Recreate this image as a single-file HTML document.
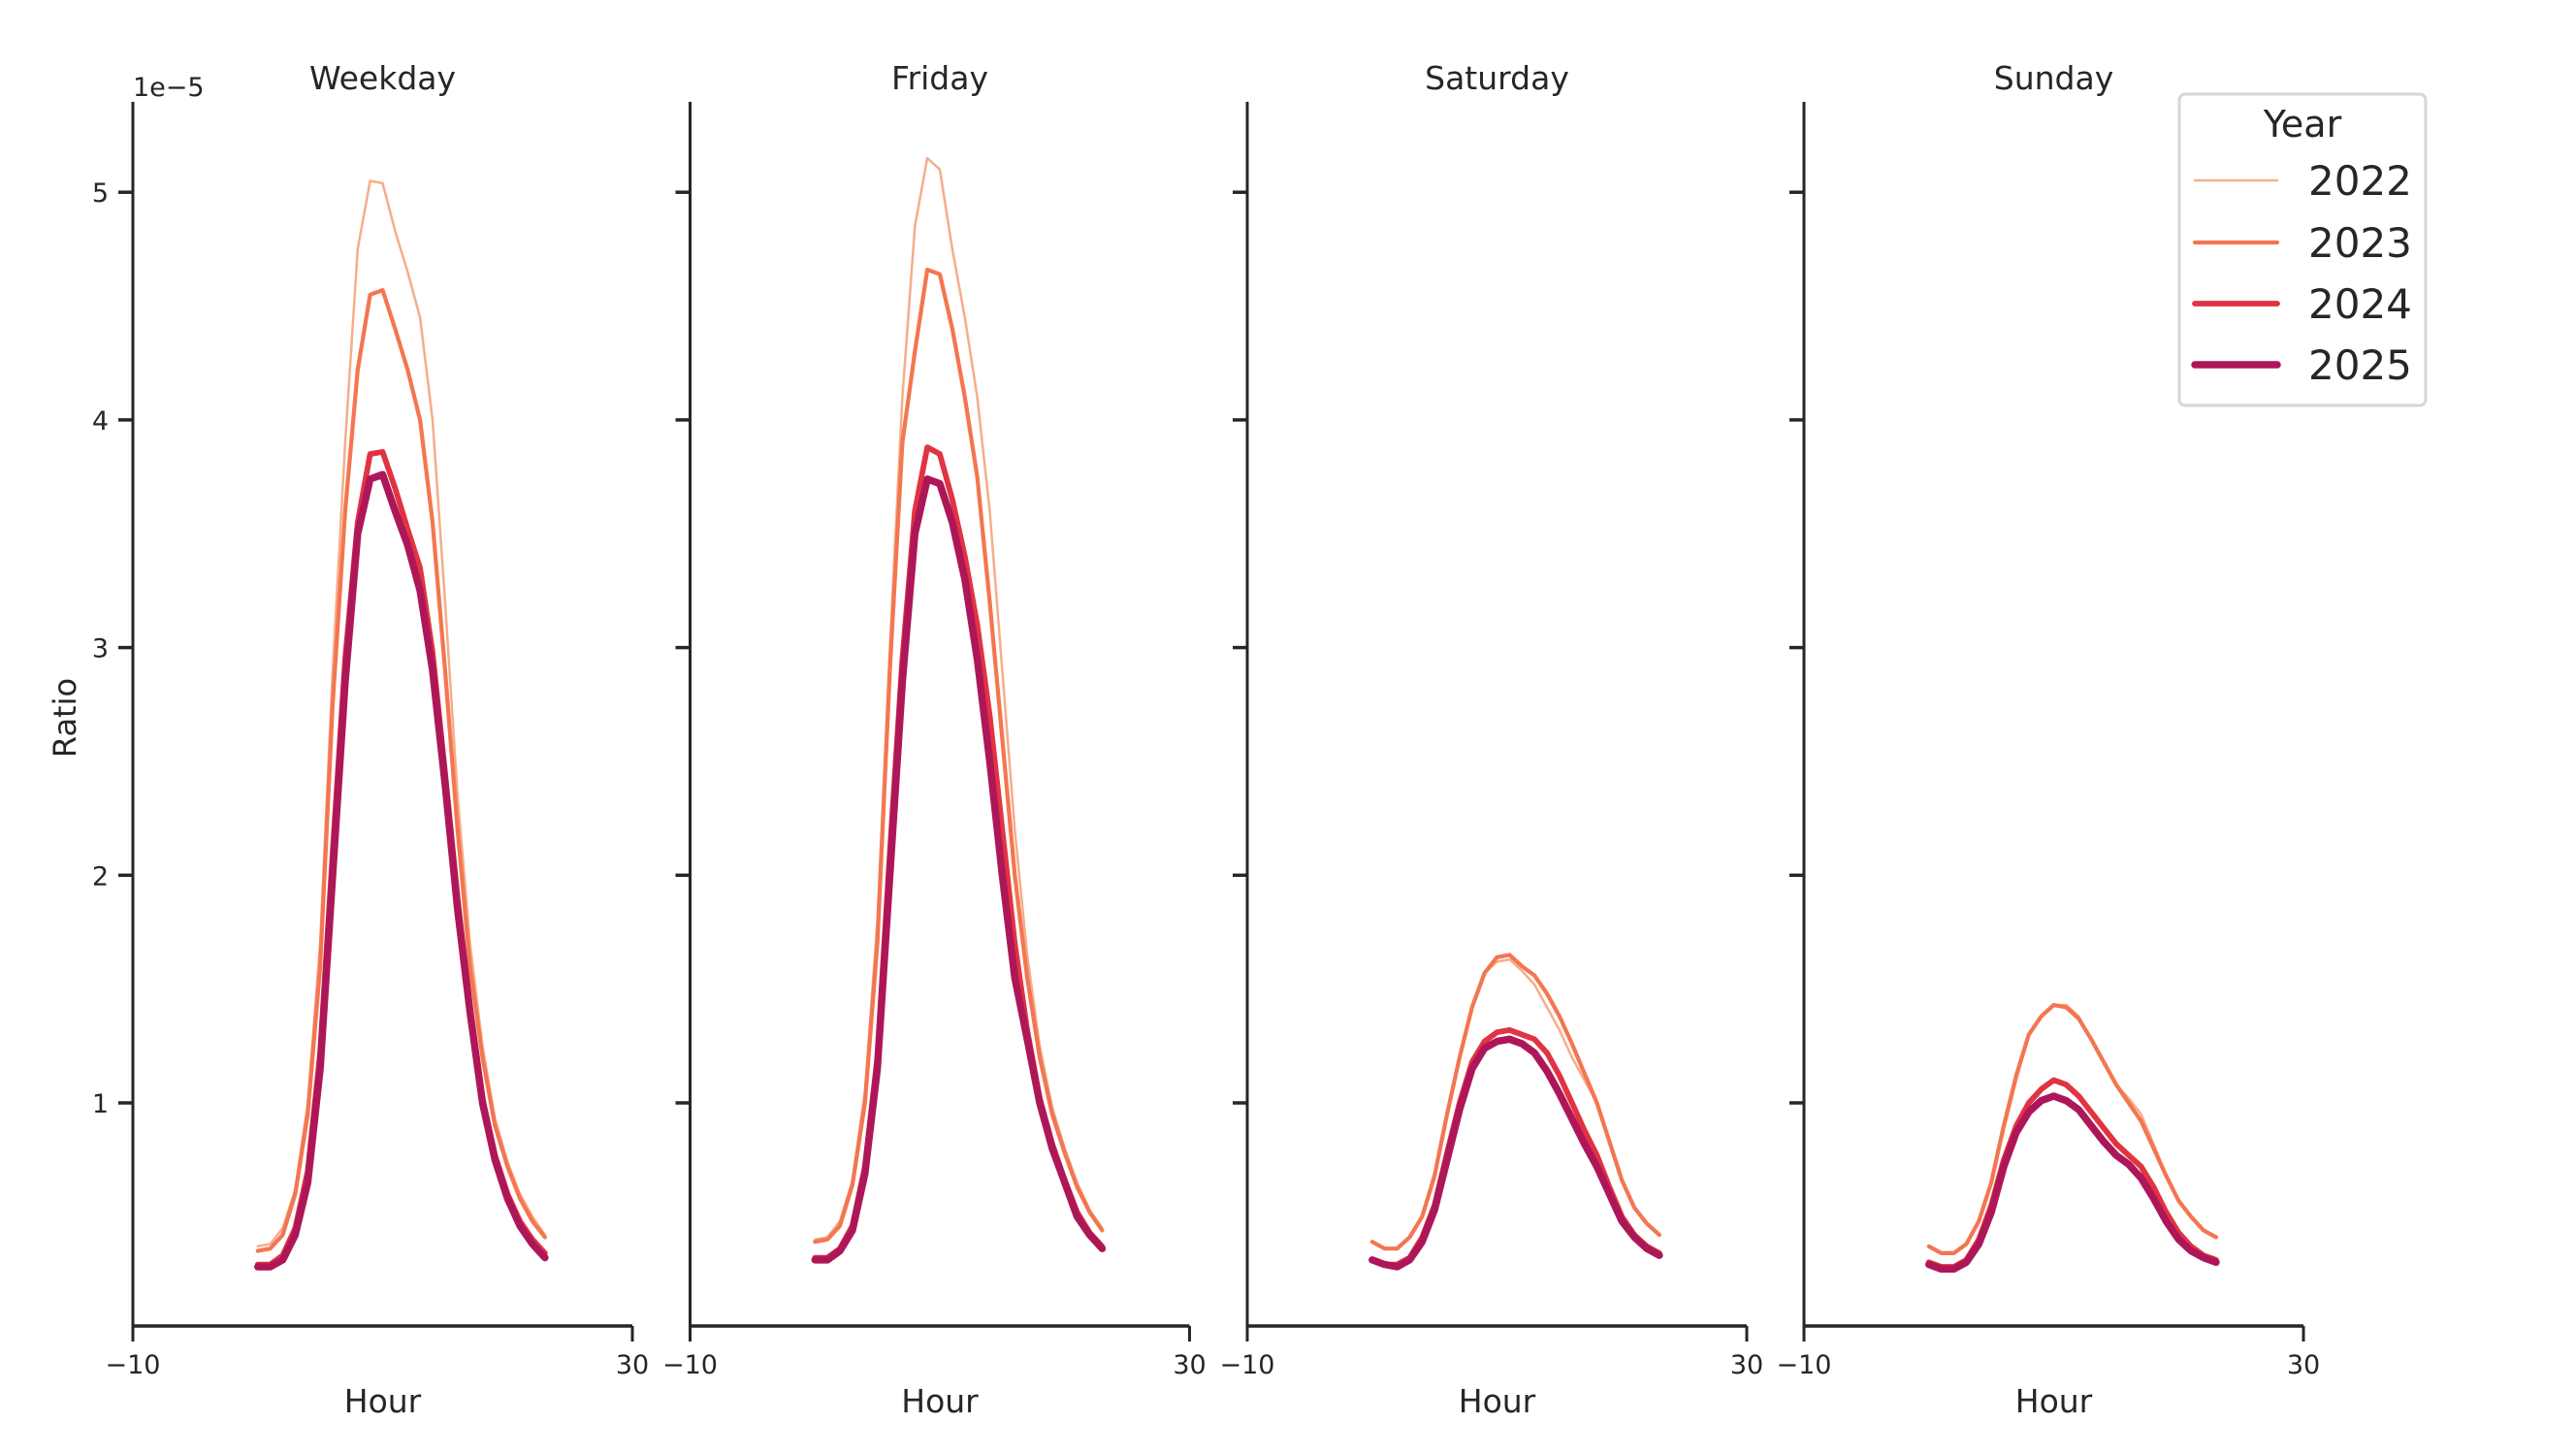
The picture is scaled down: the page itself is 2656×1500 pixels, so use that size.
<!DOCTYPE html>
<html><head><meta charset="utf-8"><style>
html,body{margin:0;padding:0;background:#fff;}
svg{display:block;font-family:"DejaVu Sans","Liberation Sans",sans-serif;}
</style></head><body>
<svg id="s" width="2656" height="1500" viewBox="0 0 2656 1500" xmlns="http://www.w3.org/2000/svg"></svg>
<script>
const s=document.getElementById('s');
const L=[137,711.5,1286,1860], W=515;
const Y=v=>1137+(1-v)*234.7;
const titles=["Weekday","Friday","Saturday","Sunday"];
const cols=["#f6ad8a","#f37651","#e13342","#ad1759"], ws=[2.5,4.2,5.8,7.5];
const D=[
[[.37,.38,.45,.62,1.0,1.7,2.9,3.9,4.75,5.05,5.04,4.83,4.65,4.45,4.0,3.2,2.35,1.7,1.25,.93,.74,.6,.5,.42],
 [.35,.36,.42,.6,.95,1.6,2.75,3.6,4.22,4.55,4.57,4.4,4.22,4.0,3.55,2.9,2.2,1.6,1.2,.9,.72,.58,.48,.41],
 [.29,.29,.33,.45,.7,1.22,2.1,2.95,3.55,3.85,3.86,3.7,3.52,3.35,2.98,2.45,1.9,1.42,1.02,.77,.6,.48,.4,.34],
 [.28,.28,.31,.42,.65,1.15,2.0,2.85,3.5,3.74,3.76,3.6,3.45,3.25,2.9,2.4,1.85,1.4,1.0,.75,.58,.46,.38,.32]],
[[.40,.41,.48,.66,1.05,1.8,3.0,4.1,4.85,5.15,5.1,4.75,4.45,4.1,3.6,2.9,2.2,1.65,1.25,.98,.8,.65,.53,.45],
 [.39,.40,.46,.64,1.0,1.7,2.9,3.9,4.3,4.66,4.64,4.4,4.1,3.75,3.2,2.6,2.0,1.55,1.2,.95,.78,.63,.52,.44],
 [.32,.32,.36,.46,.72,1.2,2.1,2.95,3.6,3.88,3.85,3.65,3.4,3.1,2.7,2.2,1.7,1.32,1.02,.82,.66,.52,.43,.37],
 [.31,.31,.35,.44,.69,1.15,2.0,2.85,3.5,3.74,3.72,3.55,3.3,2.95,2.5,2.0,1.55,1.28,1.0,.8,.65,.5,.42,.36]],
[[.39,.36,.36,.41,.5,.68,.95,1.2,1.42,1.57,1.62,1.63,1.58,1.52,1.42,1.32,1.2,1.1,1.0,.83,.66,.54,.47,.42],
 [.39,.36,.36,.41,.5,.68,.95,1.2,1.42,1.57,1.64,1.65,1.6,1.56,1.48,1.38,1.26,1.13,1.0,.83,.66,.54,.47,.42],
 [.31,.29,.29,.32,.41,.55,.78,1.0,1.18,1.27,1.31,1.32,1.3,1.28,1.22,1.12,1.0,.88,.77,.63,.5,.42,.37,.34],
 [.31,.29,.28,.31,.39,.53,.75,.97,1.15,1.24,1.27,1.28,1.26,1.22,1.14,1.04,.93,.82,.72,.6,.48,.41,.36,.33]],
[[.37,.34,.34,.38,.48,.65,.88,1.1,1.3,1.38,1.43,1.43,1.38,1.28,1.18,1.08,1.02,.95,.82,.68,.57,.5,.44,.41],
 [.37,.34,.34,.38,.48,.65,.9,1.12,1.3,1.38,1.43,1.42,1.37,1.28,1.18,1.08,1.0,.92,.8,.68,.57,.5,.44,.41],
 [.30,.28,.28,.31,.4,.55,.75,.9,1.0,1.06,1.1,1.08,1.03,.96,.89,.82,.77,.72,.63,.52,.43,.37,.33,.31],
 [.29,.27,.27,.30,.38,.52,.72,.87,.96,1.01,1.03,1.01,.97,.9,.83,.77,.73,.67,.58,.48,.4,.35,.32,.30]]];
let h='';
const ink='#262626';
for(let p=0;p<4;p++){
 const x0=L[p], X=t=>x0+(t+10)/40*W;
 h+=`<text x="${x0+W/2}" y="92" font-size="33" text-anchor="middle" fill="${ink}">${titles[p]}</text>`;
 h+=`<line x1="${x0}" y1="105" x2="${x0}" y2="1368" stroke="${ink}" stroke-width="3"/>`;
 h+=`<line x1="${x0}" y1="1367" x2="${x0+W}" y2="1367" stroke="${ink}" stroke-width="3.5"/>`;
 for(const t of [-10,30]){h+=`<line x1="${X(t)}" y1="1367" x2="${X(t)}" y2="1383" stroke="${ink}" stroke-width="3"/>`;
  h+=`<text x="${X(t)}" y="1416" font-size="27" text-anchor="middle" fill="${ink}">${t<0?'\u221210':'30'}</text>`;}
 for(let v=1;v<=5;v++){h+=`<line x1="${x0-15}" y1="${Y(v)}" x2="${x0}" y2="${Y(v)}" stroke="${ink}" stroke-width="3.5"/>`;
  if(p==0)h+=`<text x="${x0-25}" y="${Y(v)+10}" font-size="27" text-anchor="end" fill="${ink}">${v}</text>`;}
 h+=`<text x="${x0+W/2}" y="1456" font-size="33" text-anchor="middle" fill="${ink}">Hour</text>`;
 for(let k=0;k<4;k++){
  const pts=D[p][k].map((v,i)=>X(i).toFixed(1)+','+Y(v).toFixed(1)).join(' ');
  h+=`<polyline points="${pts}" fill="none" stroke="${cols[k]}" stroke-width="${ws[k]}" stroke-linejoin="round" stroke-linecap="round"/>`;
 }
}
h+=`<text x="137" y="99" font-size="27" fill="${ink}">1e\u22125</text>`;
h+=`<text transform="translate(78,740) rotate(-90)" font-size="32" text-anchor="middle" fill="${ink}">Ratio</text>`;
h+=`<rect x="2247" y="97" width="254" height="321" rx="6" fill="#fff" stroke="#d6d6d6" stroke-width="3"/>`;
h+=`<text x="2374" y="141" font-size="38" text-anchor="middle" fill="${ink}">Year</text>`;
const yrs=["2022","2023","2024","2025"],ry=[186,250,313,376];
for(let k=0;k<4;k++){
 h+=`<line x1="2263" y1="${ry[k]}" x2="2348" y2="${ry[k]}" stroke="${cols[k]}" stroke-width="${ws[k]}" stroke-linecap="round"/>`;
 h+=`<text x="2380" y="${ry[k]+15}" font-size="42" fill="${ink}">${yrs[k]}</text>`;
}
s.innerHTML=h;
</script>
</body></html>
